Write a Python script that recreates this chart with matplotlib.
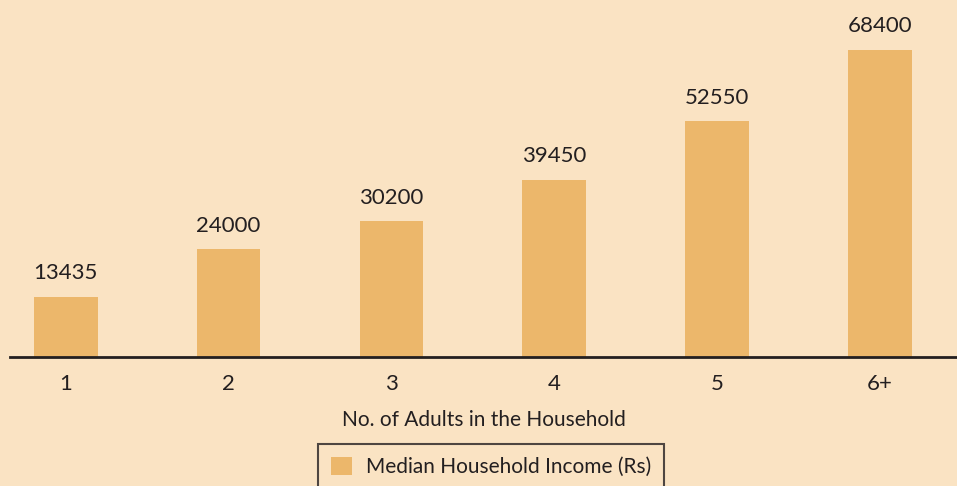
import matplotlib.pyplot as plt
import numpy as np

adults = ['1', '2', '3', '4', '5', '6+']
income = [13435, 24000, 30200, 39450, 52550, 68400]

bg = '#fae3c3'
bar_color = '#ecb76b'
ink = '#231f20'

plt.rcParams['font.family'] = ['Lato', 'DejaVu Sans']

fig = plt.figure(figsize=(9.57, 4.86), dpi=100, facecolor=bg)
ax = fig.add_axes([10 / 957, 129 / 486, 947 / 957, 357 / 486])
ax.set_facecolor(bg)

x = np.arange(len(adults))
bars = ax.bar(x, income, width=0.39, color=bar_color, label='Median Household Income (Rs)')
for xi, v in zip(x, income):
    ax.text(xi, v + 3000, str(v), ha='center', va='bottom', fontsize=16, color=ink)

ax.set_xlim(-0.343, 5.474)
ax.set_ylim(0, 79500)
ax.set_xticks(x)
ax.set_xticklabels(adults, fontsize=16, color=ink)
ax.tick_params(axis='x', length=0, pad=12)
ax.set_yticks([])
for s in ['top', 'left', 'right']:
    ax.spines[s].set_visible(False)
ax.spines['bottom'].set_color(ink)
ax.spines['bottom'].set_linewidth(2)
ax.set_xlabel('No. of Adults in the Household', fontsize=15, color=ink, labelpad=12)

leg = fig.legend(loc='upper center', bbox_to_anchor=(491 / 957, 1 - 444 / 486),
                 fontsize=15, frameon=True, fancybox=False, handlelength=1.0,
                 handleheight=1.0, borderpad=0.6, handletextpad=0.7,
                 borderaxespad=0)
leg.get_frame().set_edgecolor(ink)
leg.get_frame().set_linewidth(1.5)
leg.get_frame().set_facecolor(bg)
for t in leg.get_texts():
    t.set_color(ink)

plt.savefig('out.png', facecolor=bg)
